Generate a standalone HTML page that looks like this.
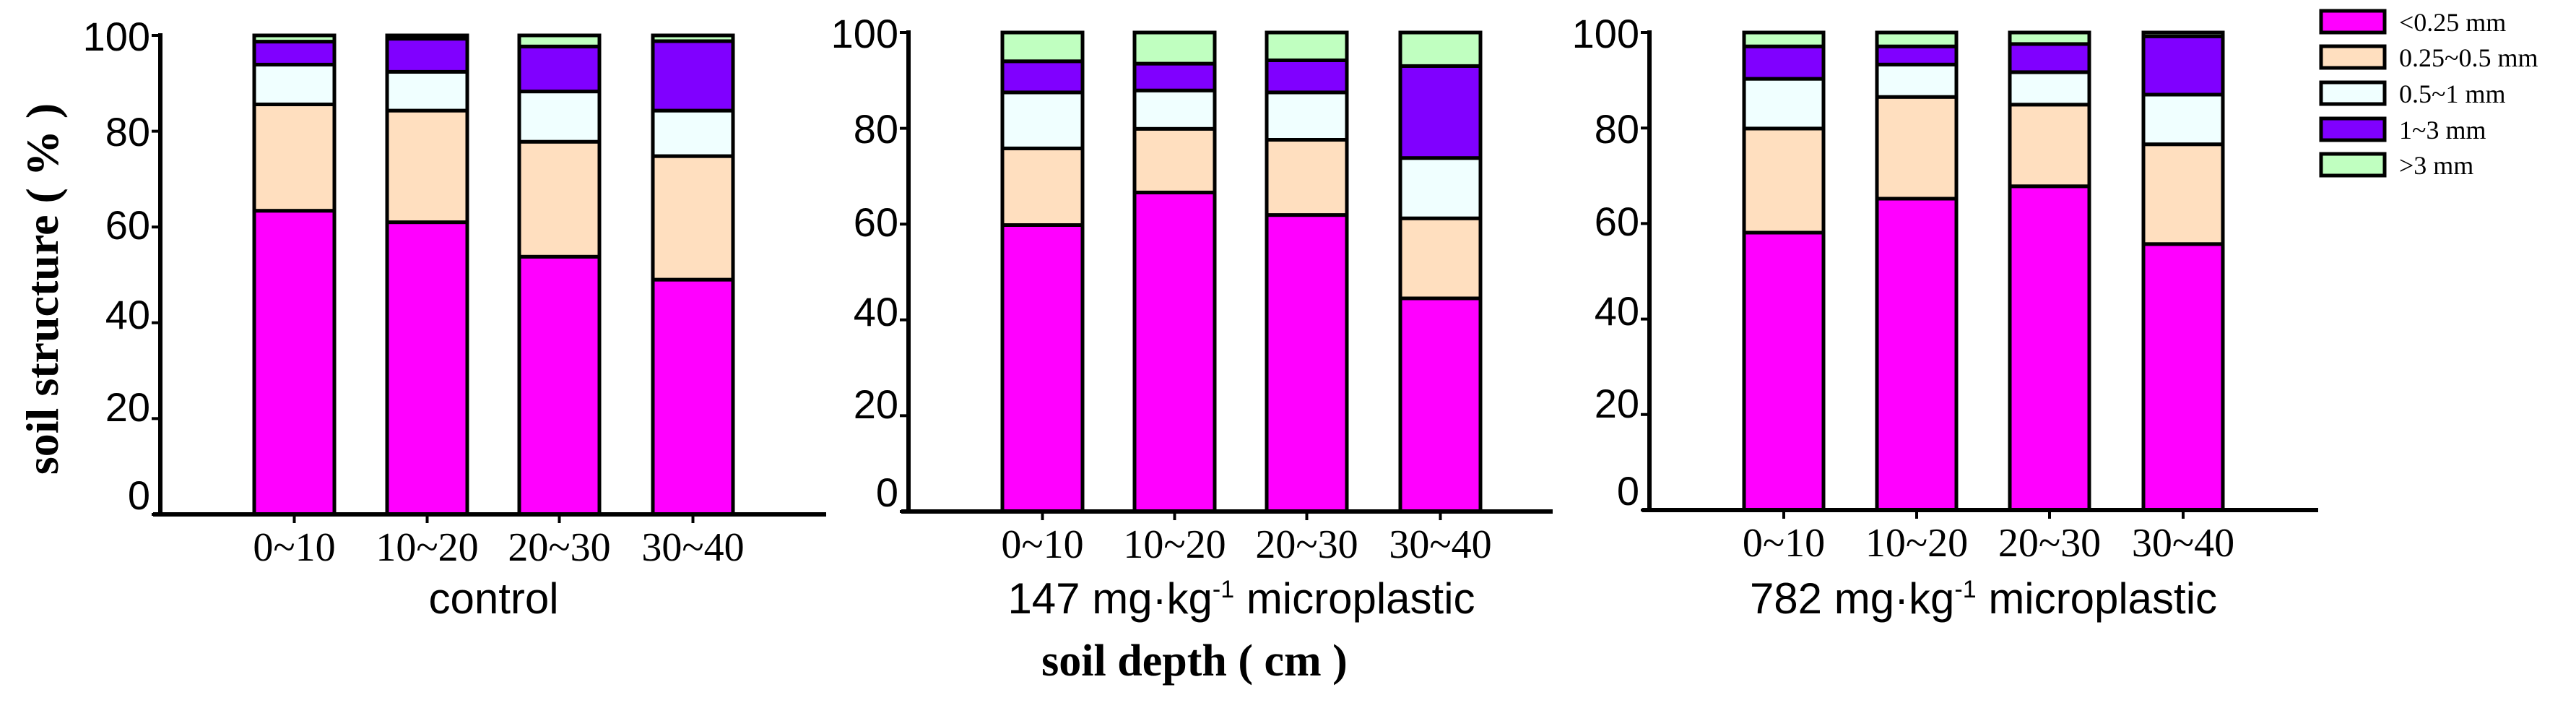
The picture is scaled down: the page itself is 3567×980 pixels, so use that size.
<!DOCTYPE html>
<html><head><meta charset="utf-8"><style>body{margin:0;background:#fff}svg{display:block}</style></head><body>
<svg width="3567" height="980" xmlns="http://www.w3.org/2000/svg" font-family="Liberation Sans, sans-serif">
<g stroke="#000" stroke-width="5">
<rect x="352" y="291.7" width="111" height="420.3" fill="#ff00ff"/>
<rect x="352" y="144.5" width="111" height="147.2" fill="#ffdfbf"/>
<rect x="352" y="89.4" width="111" height="55.1" fill="#f0ffff"/>
<rect x="352" y="57.6" width="111" height="31.8" fill="#8000ff"/>
<rect x="352" y="49" width="111" height="8.6" fill="#c0ffc0"/>
<rect x="536" y="307.6" width="111" height="404.4" fill="#ff00ff"/>
<rect x="536" y="153.1" width="111" height="154.5" fill="#ffdfbf"/>
<rect x="536" y="99.4" width="111" height="53.7" fill="#f0ffff"/>
<rect x="536" y="53.6" width="111" height="45.8" fill="#8000ff"/>
<rect x="536" y="49" width="111" height="4.6" fill="#c0ffc0"/>
<rect x="719" y="355.3" width="111" height="356.7" fill="#ff00ff"/>
<rect x="719" y="196.2" width="111" height="159.1" fill="#ffdfbf"/>
<rect x="719" y="126.6" width="111" height="69.6" fill="#f0ffff"/>
<rect x="719" y="64.3" width="111" height="62.3" fill="#8000ff"/>
<rect x="719" y="49" width="111" height="15.3" fill="#c0ffc0"/>
<rect x="904" y="387.1" width="111" height="324.9" fill="#ff00ff"/>
<rect x="904" y="216.1" width="111" height="171" fill="#ffdfbf"/>
<rect x="904" y="153.1" width="111" height="63" fill="#f0ffff"/>
<rect x="904" y="57" width="111" height="96.1" fill="#8000ff"/>
<rect x="904" y="49" width="111" height="8" fill="#c0ffc0"/>
<rect x="1388" y="311.5" width="111" height="396.5" fill="#ff00ff"/>
<rect x="1388" y="205.4" width="111" height="106.1" fill="#ffdfbf"/>
<rect x="1388" y="127.9" width="111" height="77.5" fill="#f0ffff"/>
<rect x="1388" y="84.8" width="111" height="43.1" fill="#8000ff"/>
<rect x="1388" y="45" width="111" height="39.8" fill="#c0ffc0"/>
<rect x="1571" y="266.4" width="111" height="441.6" fill="#ff00ff"/>
<rect x="1571" y="178.3" width="111" height="88.1" fill="#ffdfbf"/>
<rect x="1571" y="125.2" width="111" height="53.1" fill="#f0ffff"/>
<rect x="1571" y="88.1" width="111" height="37.1" fill="#8000ff"/>
<rect x="1571" y="45" width="111" height="43.1" fill="#c0ffc0"/>
<rect x="1754" y="297.6" width="111" height="410.4" fill="#ff00ff"/>
<rect x="1754" y="193.5" width="111" height="104.1" fill="#ffdfbf"/>
<rect x="1754" y="127.9" width="111" height="65.6" fill="#f0ffff"/>
<rect x="1754" y="83.5" width="111" height="44.4" fill="#8000ff"/>
<rect x="1754" y="45" width="111" height="38.5" fill="#c0ffc0"/>
<rect x="1939" y="413" width="111" height="295" fill="#ff00ff"/>
<rect x="1939" y="302.2" width="111" height="110.8" fill="#ffdfbf"/>
<rect x="1939" y="218.7" width="111" height="83.5" fill="#f0ffff"/>
<rect x="1939" y="91.4" width="111" height="127.3" fill="#8000ff"/>
<rect x="1939" y="45" width="111" height="46.4" fill="#c0ffc0"/>
<rect x="2415" y="322" width="110" height="384" fill="#ff00ff"/>
<rect x="2415" y="177.9" width="110" height="144.1" fill="#ffdfbf"/>
<rect x="2415" y="109.1" width="110" height="68.8" fill="#f0ffff"/>
<rect x="2415" y="64.2" width="110" height="44.9" fill="#8000ff"/>
<rect x="2415" y="45" width="110" height="19.2" fill="#c0ffc0"/>
<rect x="2599" y="275" width="110" height="431" fill="#ff00ff"/>
<rect x="2599" y="134.2" width="110" height="140.8" fill="#ffdfbf"/>
<rect x="2599" y="89.3" width="110" height="44.9" fill="#f0ffff"/>
<rect x="2599" y="64.2" width="110" height="25.1" fill="#8000ff"/>
<rect x="2599" y="45" width="110" height="19.2" fill="#c0ffc0"/>
<rect x="2783" y="257.8" width="110" height="448.2" fill="#ff00ff"/>
<rect x="2783" y="144.8" width="110" height="113" fill="#ffdfbf"/>
<rect x="2783" y="99.9" width="110" height="44.9" fill="#f0ffff"/>
<rect x="2783" y="60.9" width="110" height="39" fill="#8000ff"/>
<rect x="2783" y="45" width="110" height="15.9" fill="#c0ffc0"/>
<rect x="2968" y="337.8" width="110" height="368.2" fill="#ff00ff"/>
<rect x="2968" y="199.7" width="110" height="138.1" fill="#ffdfbf"/>
<rect x="2968" y="131" width="110" height="68.7" fill="#f0ffff"/>
<rect x="2968" y="50.3" width="110" height="80.7" fill="#8000ff"/>
<rect x="2968" y="45" width="110" height="5.3" fill="#c0ffc0"/>
<rect x="3214" y="15" width="88" height="30" fill="#ff00ff"/>
<rect x="3214" y="64" width="88" height="30" fill="#ffdfbf"/>
<rect x="3214" y="114" width="88" height="30" fill="#f0ffff"/>
<rect x="3214" y="164" width="88" height="30" fill="#8000ff"/>
<rect x="3214" y="213" width="88" height="30" fill="#c0ffc0"/>
</g>
<g stroke="#000" stroke-width="6" fill="none">
<path d="M222 46V715M212 712H1144"/>
<path d="M1258 42V711M1248 708H2150"/>
<path d="M2284 42V709M2274 706H3210"/>
</g>
<g stroke="#000" stroke-width="4">
<path d="M210 712H222M210 579.4H222M210 446.8H222M210 314.2H222M210 181.6H222M210 49H222"/>
<path d="M1246 708H1258M1246 575.4H1258M1246 442.8H1258M1246 310.2H1258M1246 177.6H1258M1246 45H1258"/>
<path d="M2272 706H2284M2272 573.8H2284M2272 441.6H2284M2272 309.4H2284M2272 177.2H2284M2272 45H2284"/>
<path d="M407.5 712v12M591.5 712v12M774.5 712v12M959.5 712v12"/>
<path d="M1443.5 708v12M1626.5 708v12M1809.5 708v12M1994.5 708v12"/>
<path d="M2470 706v12M2654 706v12M2838 706v12M3023 706v12"/>
</g>
<g font-size="56" text-anchor="end">
<text x="208" y="705">0</text><text x="208" y="583">20</text><text x="208" y="455">40</text><text x="208" y="331">60</text><text x="208" y="202">80</text><text x="208" y="70">100</text>
<text x="1244" y="701">0</text><text x="1244" y="579">20</text><text x="1244" y="451">40</text><text x="1244" y="327">60</text><text x="1244" y="198">80</text><text x="1244" y="66">100</text>
<text x="2270" y="699">0</text><text x="2270" y="578">20</text><text x="2270" y="450">40</text><text x="2270" y="326">60</text><text x="2270" y="198">80</text><text x="2270" y="66">100</text>
</g>
<g font-family="Liberation Serif, serif" font-size="56" text-anchor="middle">
<text x="407.5" y="776">0~10</text><text x="591.5" y="776">10~20</text><text x="774.5" y="776">20~30</text><text x="959.5" y="776">30~40</text>
<text x="1443.5" y="772">0~10</text><text x="1626.5" y="772">10~20</text><text x="1809.5" y="772">20~30</text><text x="1994.5" y="772">30~40</text>
<text x="2470" y="770">0~10</text><text x="2654" y="770">10~20</text><text x="2838" y="770">20~30</text><text x="3023" y="770">30~40</text>
</g>
<g font-size="60" text-anchor="middle">
<text x="683.5" y="849">control</text>
<text x="1719" y="849">147 mg·kg<tspan font-size="34" dy="-22">-1</tspan><tspan dy="22"> microplastic</tspan></text>
<text x="2746.5" y="849">782 mg·kg<tspan font-size="34" dy="-22">-1</tspan><tspan dy="22"> microplastic</tspan></text>
</g>
<text x="1654" y="935" font-family="Liberation Serif, serif" font-weight="bold" font-size="62" text-anchor="middle">soil depth ( cm )</text>
<text transform="translate(80,400) rotate(-90)" font-family="Liberation Serif, serif" font-weight="bold" font-size="64" text-anchor="middle">soil structure ( % )</text>
<g font-family="Liberation Serif, serif" font-size="36">
<text x="3322" y="43">&lt;0.25 mm</text>
<text x="3322" y="92">0.25~0.5 mm</text>
<text x="3322" y="142">0.5~1 mm</text>
<text x="3322" y="192">1~3 mm</text>
<text x="3322" y="241">&gt;3 mm</text>
</g>
</svg>
</body></html>
